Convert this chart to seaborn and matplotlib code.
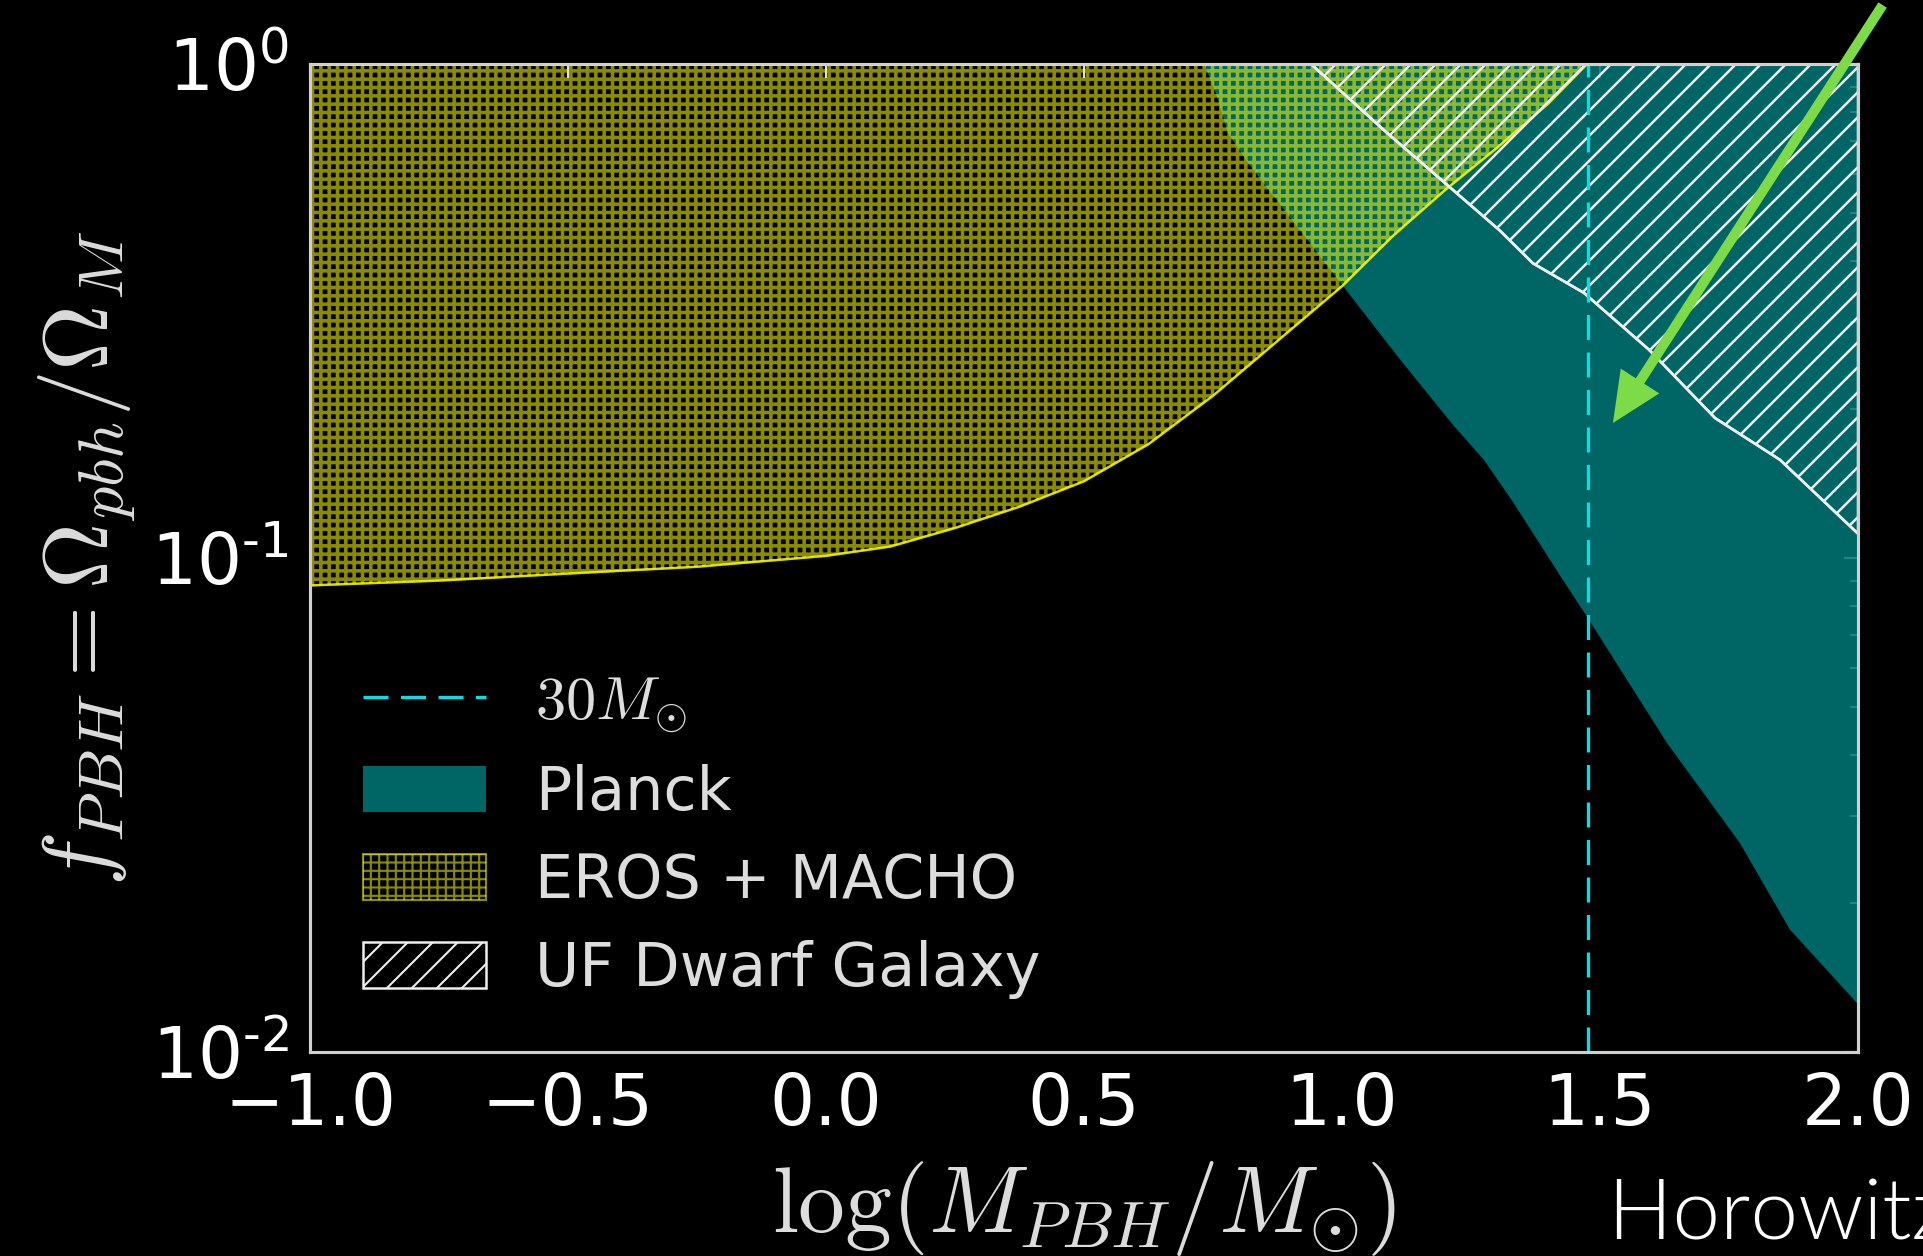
import numpy as np
import matplotlib
matplotlib.use("Agg")
import matplotlib.pyplot as plt
from matplotlib.ticker import FixedLocator, FixedFormatter
import seaborn as sns

# ---- data ----
planck_x = [0.733, 0.756, 0.779, 0.818, 0.870, 0.932, 0.988, 1.109, 1.215, 1.275, 1.331, 1.426, 1.475, 1.630, 1.771, 1.868, 2.0]
planck_y = [1.0, 0.870, 0.725, 0.630, 0.536, 0.442, 0.371, 0.255, 0.186, 0.158, 0.130, 0.091, 0.076, 0.0422, 0.0265, 0.0177, 0.0125]

eros_x = [-1.0, -0.75, -0.5, -0.25, 0.0, 0.125, 0.25, 0.375, 0.5, 0.625, 0.75, 0.875, 1.0, 1.1, 1.2, 1.3, 1.4, 1.475]
eros_y = [0.088, 0.090, 0.093, 0.096, 0.101, 0.1055, 0.115, 0.127, 0.143, 0.170, 0.213, 0.275, 0.355, 0.45, 0.556, 0.676, 0.832, 1.0]

uf_x = [0.940, 1.081, 1.215, 1.306, 1.370, 1.469, 1.595, 1.723, 1.849, 2.0]
uf_y = [1.0, 0.735, 0.556, 0.46, 0.395, 0.344, 0.264, 0.192, 0.158, 0.112]

mass_ref = 30  # solar masses
labels = [r"$30M_{\odot}$", "Planck", "EROS + MACHO", "UF Dwarf Galaxy"]
x_ticks = [-1.0, -0.5, 0.0, 0.5, 1.0, 1.5, 2.0]
y_ticks = [1e-2, 1e-1, 1e0]
y_ticklabels = ["$\\mathdefault{10^{\u20102}}$", "$\\mathdefault{10^{\u20101}}$", "$\\mathdefault{10^{0}}$"]

# ---- style ----
sns.set_theme(style="dark")
DPI = 150
plt.rcParams.update({
    "font.family": ["DejaVu Sans"],
    "mathtext.fontset": "cm",
    "figure.facecolor": "black",
    "axes.facecolor": "black",
    "savefig.facecolor": "black",
    "axes.edgecolor": "#d0d0d0",
    "text.color": "#dddddd",
    "xtick.color": "white",
    "ytick.color": "white",
})

fig = plt.figure(figsize=(1923 / DPI, 1256 / DPI), dpi=DPI)
ax = fig.add_axes([310 / 1923, 1 - 1052 / 1256, 1548 / 1923, 988 / 1256])
ax.set_facecolor("black")

ax.set_yscale("log")
ax.set_xlim(-1, 2)
ax.set_ylim(1e-2, 1)

# 30 Msun line
ax.axvline(np.log10(mass_ref), color="#14d9e0", lw=1.6, dashes=(7.5, 3.75),
           label=labels[0], zorder=4)

# Planck
ax.fill_between(planck_x, planck_y, 1.0, facecolor="#007878", alpha=0.85,
                edgecolor="none", lw=0, label=labels[1], zorder=1)

# EROS + MACHO
with plt.rc_context({"hatch.linewidth": 1.7}):
    eros = ax.fill_between(eros_x, eros_y, 1.0, facecolor="none",
                           edgecolor=(1.0, 1.0, 0.0, 0.55), hatch="+++", lw=1.0,
                           label=labels[2], zorder=2)
    if hasattr(eros, "set_hatch_linewidth"):
        eros.set_hatch_linewidth(1.7)
# UF dwarf
with plt.rc_context({"hatch.linewidth": 1.2}):
    uf = ax.fill_between(uf_x, uf_y, 1.0, facecolor="none", edgecolor="#eeeeee",
                         hatch="//", lw=1.2, label=labels[3], zorder=3)
    if hasattr(uf, "set_hatch_linewidth"):
        uf.set_hatch_linewidth(1.2)

sns.lineplot(x=eros_x, y=eros_y, ax=ax, color=(1.0, 1.0, 0.0, 0.7), lw=1.2,
             legend=False, zorder=2)
sns.lineplot(x=uf_x, y=uf_y, ax=ax, color="#eeeeee", lw=1.3, legend=False, zorder=3)

# axes styling
for s in ax.spines.values():
    s.set_color("#d0d0d0")
    s.set_linewidth(1.5)
    s.set_zorder(5)
ax.set_axisbelow(True)
ax.set_xticks(x_ticks)
ax.set_xticklabels([f"{t:.1f}".replace("-", "\u2212") for t in x_ticks])
ax.yaxis.set_major_locator(FixedLocator(y_ticks))
ax.yaxis.set_major_formatter(FixedFormatter(y_ticklabels))
ax.tick_params(which="both", direction="in", top=True, right=True,
               color="#e0e0e0", labelcolor="white")
ax.tick_params(which="major", length=6.5, width=1.0, labelsize=34)
ax.tick_params(which="minor", length=4.0, width=0.9)
ax.tick_params(axis="y", which="major", pad=10)
ax.tick_params(axis="x", which="major", pad=9)
ax.grid(False)

ax.set_xlabel(r"$\log(M_{PBH}/M_{\odot})$", fontsize=45, color="#dcdcdc", labelpad=9)
ax.set_ylabel(r"$f_{PBH}=\Omega_{pbh}/\Omega_M$", fontsize=44, color="#dcdcdc", labelpad=7)

leg = ax.legend(loc="lower left", bbox_to_anchor=(0.034, 0.054), frameon=False,
                fontsize=29, handlelength=2.05, handleheight=0.8,
                handletextpad=0.8, labelspacing=0.48, borderpad=0, borderaxespad=0)
for t in leg.get_texts():
    t.set_color("#dddddd")

# annotation arrow
ax.annotate("", xy=(1.525, 0.1876), xycoords="data",
            xytext=(0.979, 0.996), textcoords="figure fraction",
            arrowprops=dict(arrowstyle="simple,head_length=1.2,head_width=1.1,tail_width=0.24",
                            mutation_scale=20, color="#7ddb47", lw=0,
                            shrinkA=0, shrinkB=0),
            annotation_clip=False, zorder=10)

fig.text(1608 / 1923, 1 - 1239 / 1256, "Horowitz 2016", fontsize=41,
         family=["Lato", "Open Sans", "DejaVu Sans"], fontweight=300,
         color="white", va="baseline", ha="left")

fig.savefig("out.png", dpi=DPI, facecolor="black")
